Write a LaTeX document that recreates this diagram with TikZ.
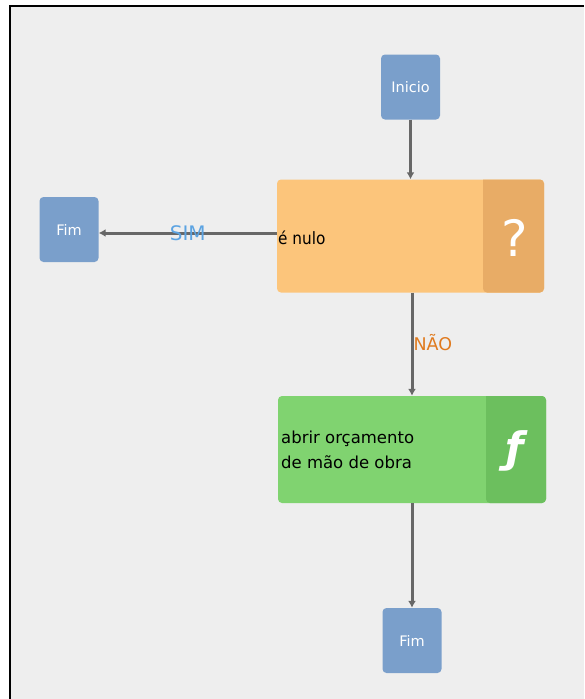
\documentclass[tikz,border=0pt]{standalone}
\usepackage{fontspec}
\setmainfont{DejaVu Sans}
\newfontfamily\condensedsans{DejaVu Sans Condensed}
\usetikzlibrary{arrows.meta}
\definecolor{canvasgray}{HTML}{EEEEEE}
\definecolor{termblue}{HTML}{7A9FCB}
\definecolor{decmain}{HTML}{FCC57B}
\definecolor{decdark}{HTML}{E8AC66}
\definecolor{funmain}{HTML}{80D370}
\definecolor{fundark}{HTML}{6CBF5E}
\definecolor{linkgray}{HTML}{676767}
\definecolor{yesblue}{HTML}{5BA3E2}
\definecolor{nobrown}{HTML}{E07A1E}
\tikzset{
  terminal/.style={fill=termblue, rounded corners=4pt, inner sep=0pt,
    minimum width=59pt, minimum height=65pt, text=white, font=\fontsize{14.5}{16}\selectfont},
  blockbox/.style={rounded corners=4pt, inner sep=0pt, minimum height=#1},
  link/.style={draw=linkgray, line width=3pt, -{Latex[length=7pt,width=8pt]}},
  blocktext/.style={anchor=west, inner sep=0pt, align=left},
}
\begin{document}
\begin{tikzpicture}[x=1pt, y=-1pt]
  \useasboundingbox (0,0) rectangle (584,699);
  % page and framed canvas
  \fill[white] (0,0) rectangle (584,699);
  \fill[canvasgray] (10,6) rectangle (584,699);
  \draw[black, line width=2.5pt] (10,699) -- (10,6) -- (584,6);

  % start terminal
  \node[terminal] (ini) at (410.5,87) {Inicio};

  % decision block
  \node[blockbox=113pt, fill=decmain, minimum width=267pt] (dec) at (410.5,236) {};
  \fill[decdark, rounded corners=4pt] (483,179.5) -- (544,179.5) -- (544,292.5) -- (483,292.5) [sharp corners] -- cycle;
  \node[text=white, font=\fontsize{50}{50}\selectfont] (qm) at (515,238) {?};
  \node[blocktext, font=\condensedsans\fontsize{17}{18}\selectfont] (dectext) at (278,238) {é nulo};

  % left end terminal
  \node[terminal] (fimA) at (69,229.5) {Fim};

  % function block
  \node[blockbox=107pt, fill=funmain, minimum width=268pt] (fun) at (412,449.5) {};
  \fill[fundark, rounded corners=4pt] (486,396) -- (546,396) -- (546,503) -- (486,503) [sharp corners] -- cycle;
  \node[text=white, font=\fontsize{42}{42}\selectfont\bfseries\itshape] (fsym) at (515,451) {ƒ};
  \node[blocktext, font=\fontsize{16.5}{25}\selectfont] (funtext) at (281,450) {abrir orçamento\\de mão de obra};

  % bottom end terminal
  \node[terminal] (fimB) at (412,640.5) {Fim};

  % connectors
  \draw[link] (ini.south) -- (dec.north);
  \draw[link] ([yshift=3pt]dec.west) -- ([yshift=3pt]dec.west -| fimA.east)
    node[pos=0.5, text=yesblue, inner sep=0pt, font=\fontsize{20}{20}\selectfont] (yes) {SIM};
  \draw[link] (dec.south -| fun.north) -- (fun.north)
    node[pos=0.48, anchor=west, inner sep=0pt, text=nobrown, font=\fontsize{17.5}{18}\selectfont] (no) {NÃO};
  \draw[link] (fun.south) -- (fimB.north);
\end{tikzpicture}
\end{document}
